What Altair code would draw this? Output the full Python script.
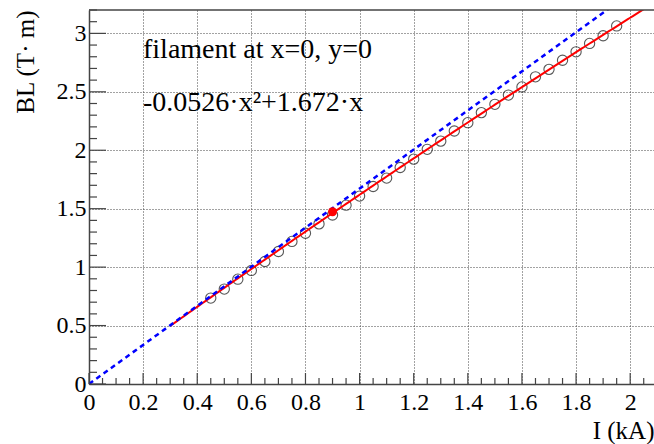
import altair as alt
import pandas as pd

# ---- data ----
current_kA = [0.45, 0.50, 0.55, 0.60, 0.65, 0.70, 0.75, 0.80, 0.85, 0.90,
              0.95, 1.00, 1.05, 1.10, 1.15, 1.20, 1.25, 1.30, 1.35, 1.40,
              1.45, 1.50, 1.55, 1.60, 1.65, 1.70, 1.75, 1.80, 1.85, 1.90, 1.95]
bl_Tm = [0.735, 0.812, 0.897, 0.972, 1.048, 1.134, 1.220, 1.290, 1.370, 1.446,
         1.530, 1.608, 1.690, 1.762, 1.852, 1.924, 2.008, 2.078, 2.165, 2.236,
         2.322, 2.393, 2.472, 2.542, 2.628, 2.692, 2.770, 2.842, 2.914, 2.980, 3.064]
marked_I = [0.90]
marked_BL = [1.474]

fit_a = -0.0526   # quadratic coefficient (from the label)
fit_b = 1.672     # linear coefficient (from the label)
fit_range = [0.30, 2.10]
line_range = [0.0, 2.10]

x_major = [0, 0.2, 0.4, 0.6, 0.8, 1.0, 1.2, 1.4, 1.6, 1.8, 2.0]
x_minor = [round(0.05 * i, 2) for i in range(0, 42) if i % 4 != 0]
y_major = [0, 0.5, 1.0, 1.5, 2.0, 2.5, 3.0]
y_minor = [round(0.1 * i, 1) for i in range(0, 33) if i % 5 != 0]

note_line1 = "filament at x=0, y=0"
note_line2 = "-0.0526·x²+1.672·x"
x_title = "I (kA)"
y_title = "BL (T· m)"

# ---- layout ----
W, H = 565, 374
XMAX, YMAX = 2.088, 3.2
FONT = "Liberation Serif"
FRAME = "#444444"

xs = alt.Scale(domain=[0, XMAX], nice=False, zero=False)
ys = alt.Scale(domain=[0, YMAX], nice=False, zero=False)

pts = pd.DataFrame({"I": current_kA, "BL": bl_Tm})

axis_x = alt.Axis(values=x_major, format="~g", grid=True, gridDash=[1, 2],
                  gridColor="#444444", gridWidth=1, ticks=False, tickSize=0,
                  domainColor=FRAME, domainWidth=1.5, labelFont=FONT,
                  labelFontSize=24, labelColor="black", labelPadding=6,
                  labelFlush=False, labelOverlap=False, labelBaseline="top",
                  title=x_title, titleFont=FONT, titleFontSize=25,
                  titleFontWeight="normal", titleColor="black",
                  titleX=565, titleY=54, titleAlign="right",
                  titleBaseline="alphabetic", titleAngle=0)
axis_y = alt.Axis(values=y_major, format="~g", grid=True, gridDash=[1, 2],
                  gridColor="#444444", gridWidth=1, ticks=False, tickSize=0,
                  domainColor=FRAME, domainWidth=1.5, labelFont=FONT,
                  labelFontSize=24, labelColor="black", labelPadding=3,
                  labelFlush=False, labelOverlap=False,
                  title=y_title, titleFont=FONT, titleFontSize=25,
                  titleFontWeight="normal", titleColor="black",
                  titleX=-64, titleY=0, titleAlign="right",
                  titleBaseline="middle", titleAngle=270)

circles = alt.Chart(pts).mark_point(shape="circle", filled=False, size=105,
                                    color="#111111", strokeWidth=1.1).encode(
    x=alt.X("I:Q", scale=xs, axis=axis_x),
    y=alt.Y("BL:Q", scale=ys, axis=axis_y),
)

fit_curve = alt.Chart(pd.DataFrame({"lo": [fit_range[0]], "hi": [fit_range[1]]})).transform_calculate(
    xs_="sequence(datum.lo, datum.hi + 0.001, 0.01)"
).transform_flatten(["xs_"]).transform_calculate(
    fy=f"{fit_a} * datum.xs_ * datum.xs_ + {fit_b} * datum.xs_"
).mark_line(color="#ff0000", strokeWidth=2, clip=True).encode(
    x=alt.X("xs_:Q", scale=xs, axis=axis_x),
    y=alt.Y("fy:Q", scale=ys, axis=axis_y),
)

lin_curve = alt.Chart(pd.DataFrame({"lx": line_range})).transform_calculate(
    ly=f"{fit_b} * datum.lx"
).mark_line(color="#0000ff", strokeWidth=2.5, strokeDash=[5, 4], clip=True).encode(
    x=alt.X("lx:Q", scale=xs, axis=axis_x),
    y=alt.Y("ly:Q", scale=ys, axis=axis_y),
)

dot = alt.Chart(pd.DataFrame({"mI": marked_I, "mB": marked_BL})).mark_point(
    shape="circle", filled=True, size=80, color="#ff0000", opacity=1).encode(
    x=alt.X("mI:Q", scale=xs, axis=axis_x),
    y=alt.Y("mB:Q", scale=ys, axis=axis_y),
)

xmaj = alt.Chart(pd.DataFrame({"t": x_major})).mark_rule(color=FRAME, strokeWidth=1.2).encode(
    x=alt.X("t:Q", scale=xs, axis=axis_x), y=alt.value(H), y2=alt.value(H - 11))
xmin = alt.Chart(pd.DataFrame({"t": x_minor})).mark_rule(color=FRAME, strokeWidth=1.2).encode(
    x=alt.X("t:Q", scale=xs, axis=axis_x), y=alt.value(H), y2=alt.value(H - 6))
ymaj = alt.Chart(pd.DataFrame({"t": y_major})).mark_rule(color=FRAME, strokeWidth=1.2).encode(
    y=alt.Y("t:Q", scale=ys, axis=axis_y), x=alt.value(0), x2=alt.value(17))
ymin = alt.Chart(pd.DataFrame({"t": y_minor})).mark_rule(color=FRAME, strokeWidth=1.2).encode(
    y=alt.Y("t:Q", scale=ys, axis=axis_y), x=alt.value(0), x2=alt.value(8))

top_border = alt.Chart(pd.DataFrame({"b": [YMAX]})).mark_rule(color=FRAME, strokeWidth=1.5).encode(
    y=alt.Y("b:Q", scale=ys, axis=axis_y), x=alt.value(0), x2=alt.value(W))

note1 = alt.Chart(pd.DataFrame({"t": [note_line1]})).mark_text(
    font=FONT, fontSize=28, align="left", baseline="alphabetic", color="black").encode(
    text="t:N", x=alt.value(54), y=alt.value(48))
note2 = alt.Chart(pd.DataFrame({"t": [note_line2]})).mark_text(
    font=FONT, fontSize=28, align="left", baseline="alphabetic", color="black").encode(
    text="t:N", x=alt.value(54), y=alt.value(101))

chart = alt.layer(
    circles, fit_curve, lin_curve, dot, xmaj, xmin, ymaj, ymin, top_border, note1, note2
).properties(
    width=W, height=H,
    autosize=alt.AutoSizeParams(type="none"),
    padding={"left": 89, "top": 10, "right": 0, "bottom": 60},
    background="white",
).configure_view(stroke=None)

chart.save("out.html", embed_options={"renderer": "svg", "actions": False})
